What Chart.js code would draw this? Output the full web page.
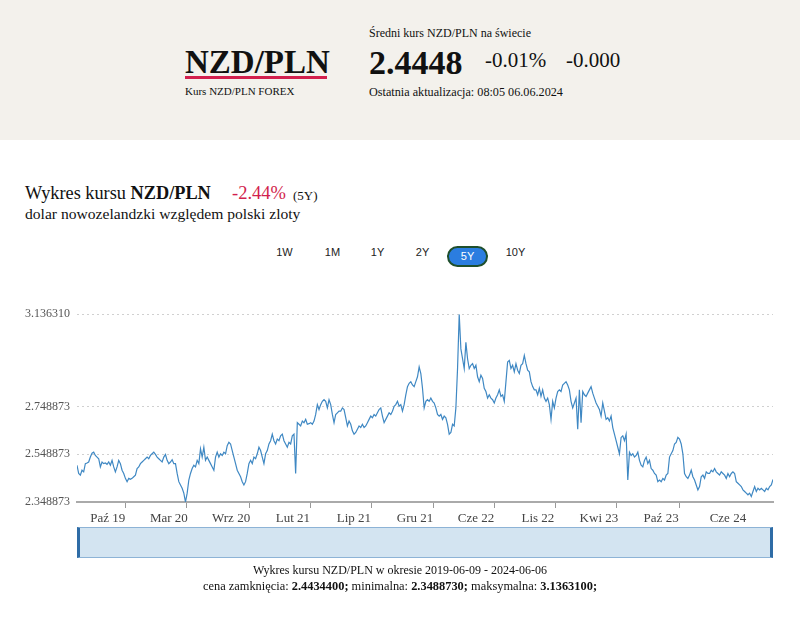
<!DOCTYPE html>
<html>
<head>
<meta charset="utf-8">
<script src="https://cdn.jsdelivr.net/npm/chart.js@4.4.1/dist/chart.umd.min.js"></script>
<style>
  body { margin: 0; width: 800px; height: 623px; position: relative; overflow: hidden; background: #fff; font-family: "Liberation Serif", serif; color: #111; }
  .t { position: absolute; white-space: nowrap; line-height: 1; }
  #hdr { position: absolute; left: 0; top: 0; width: 800px; height: 140px; background: #f3f1ec; }
  .btn { position: absolute; top: 246px; height: 19px; line-height: 19px; font: 11px "Liberation Sans", Arial, sans-serif; color: #222; text-align: center; }
  .btn.on { background: #2b7de0; color: #fff; border: 2px solid #1f4f2c; border-radius: 11px; height: 17px; line-height: 17px; }
  #nav { position: absolute; left: 77px; top: 527px; width: 690px; height: 29px; background: #d3e4f1; border-top: 1px solid #8db3d6; border-bottom: 1px solid #8db3d6; border-left: 3px solid #2e6ca6; border-right: 3px solid #2e6ca6; }
  #chartBox { position: absolute; left: 0; top: 300px; width: 800px; height: 230px; }
</style>
</head>
<body>
<div id="hdr"></div>
<div class="t" style="left:369px;top:27px;font-size:12px;">Średni kurs NZD/PLN na świecie</div>
<div class="t" style="left:185px;top:46px;font-size:33px;font-weight:bold;">NZD/PLN</div>
<div style="position:absolute;left:185px;top:76px;width:142px;height:3px;background:#d21f4d;"></div>
<div class="t" style="left:185px;top:86px;font-size:11px;">Kurs NZD/PLN FOREX</div>
<div class="t" style="left:369px;top:46px;font-size:34px;font-weight:bold;">2.4448</div>
<div class="t" style="left:485px;top:50px;font-size:21px;">-0.01%</div>
<div class="t" style="left:566px;top:50px;font-size:21px;">-0.000</div>
<div class="t" style="left:369px;top:86px;font-size:12.2px;">Ostatnia aktualizacja: 08:05 06.06.2024</div>

<div class="t" style="left:25px;top:184px;font-size:18.3px;">Wykres kursu <b>NZD/PLN</b></div>
<div class="t" style="left:232px;top:184px;font-size:18.5px;color:#d21f4d;">-2.44%</div>
<div class="t" style="left:293px;top:189px;font-size:13px;">(5Y)</div>
<div class="t" style="left:25px;top:206px;font-size:15.6px;">dolar nowozelandzki względem polski zloty</div>

<div class="btn" style="left:270px;width:29px;">1W</div>
<div class="btn" style="left:318px;width:29px;">1M</div>
<div class="btn" style="left:363px;width:29px;">1Y</div>
<div class="btn" style="left:408px;width:29px;">2Y</div>
<div class="btn on" style="left:447px;width:37px;">5Y</div>
<div class="btn" style="left:500px;width:31px;">10Y</div>

<div id="chartBox"><canvas id="rateChart" width="800" height="230"></canvas></div>
<div id="nav"></div>

<div class="t" style="left:0;width:800px;text-align:center;top:564px;font-size:12px;">Wykres kursu NZD/PLN w okresie 2019-06-09 - 2024-06-06</div>
<div class="t" style="left:0;width:800px;text-align:center;top:580px;font-size:12.4px;">cena zamknięcia: <b>2.4434400;</b> minimalna: <b>2.3488730;</b> maksymalna: <b>3.1363100;</b></div>

<script>
const startDate = "2019-06-09";
const endDate = "2024-06-06";

// closing rates, sampled evenly from startDate to endDate
const rates = [
  2.5029, 2.4685, 2.4616, 2.4822, 2.4754, 2.5097, 2.5125, 2.5166, 2.5372, 2.5537,
  2.5578, 2.5441, 2.5372, 2.5303, 2.4960, 2.5166, 2.5097, 2.5125, 2.5070, 2.5166,
  2.5029, 2.5235, 2.4960, 2.4754, 2.4960, 2.5235, 2.5097, 2.4822, 2.4685, 2.4479,
  2.4341, 2.4479, 2.4438, 2.4479, 2.4547, 2.4616, 2.4891, 2.4960, 2.5097, 2.5166,
  2.5235, 2.5303, 2.5372, 2.5303, 2.5441, 2.5510, 2.5578, 2.5482, 2.5372, 2.5303,
  2.5235, 2.5166, 2.5372, 2.5482, 2.5235, 2.5097, 2.5166, 2.5262, 2.5097, 2.5097,
  2.4685, 2.4341, 2.4204, 2.4066, 2.3860, 2.3489, 2.3860, 2.4410, 2.4685, 2.4891,
  2.5029, 2.4960, 2.5235, 2.5097,
  2.5716, 2.5372, 2.5785, 2.5235, 2.5372, 2.5235, 2.5097, 2.4960, 2.4822, 2.5372,
  2.5578, 2.5372, 2.5510, 2.5441, 2.5578, 2.5510, 2.5853, 2.5991, 2.5922, 2.5647,
  2.5372, 2.5097, 2.4822, 2.4685, 2.4547, 2.4341, 2.4204, 2.4341, 2.4685, 2.5097,
  2.5235, 2.5097, 2.5372, 2.5303, 2.5510, 2.5785, 2.5647, 2.5372, 2.5097, 2.5510,
  2.5647, 2.5922, 2.6059, 2.6334, 2.6059, 2.5922, 2.6128, 2.6059, 2.6266, 2.6334,
  2.6059, 2.5922, 2.5785, 2.5991, 2.5922, 2.6266, 2.6334, 2.4685, 2.6815, 2.6747,
  2.6678, 2.6884, 2.6815, 2.6953, 2.6747, 2.6774, 2.6815, 2.6747, 2.6884, 2.7159,
  2.7571, 2.7365, 2.7571, 2.7709, 2.7778, 2.7709, 2.7434, 2.7778, 2.7571, 2.7159,
  2.6815, 2.7159, 2.7228, 2.7297,
  2.7297, 2.7434, 2.7365, 2.7022, 2.6678, 2.6884, 2.6747, 2.6472, 2.6334, 2.6403,
  2.6541, 2.6678, 2.6609, 2.6747, 2.6609, 2.6678, 2.6815, 2.6953, 2.7090, 2.7022,
  2.7159, 2.7090, 2.7228, 2.7365, 2.7434, 2.7090, 2.6815, 2.6953, 2.7090, 2.7228,
  2.7159, 2.7297, 2.7503, 2.7571, 2.7709, 2.7503, 2.7571, 2.7297, 2.7571, 2.7984,
  2.8327, 2.8465, 2.8534, 2.8396, 2.8327, 2.8534, 2.8740, 2.9152, 2.8877, 2.8259,
  2.7434, 2.7709, 2.7778, 2.7709, 2.7846, 2.7709, 2.7640, 2.7434, 2.7159, 2.7090,
  2.7159, 2.6953, 2.7090, 2.7022, 2.6747, 2.6334, 2.6403, 2.6747, 2.6678, 2.7434,
  2.9084, 3.1363, 2.9908, 2.9496, 2.9084, 3.0183, 2.9496, 2.9084, 2.9221, 2.9290,
  2.9084, 2.9221, 2.8740, 2.8534,
  2.8809, 2.8671, 2.8259, 2.8121, 2.7846, 2.7984, 2.7846, 2.7778, 2.7640, 2.7846,
  2.7984, 2.8190, 2.7915, 2.7984, 2.7709, 2.8534, 2.9358, 2.9427, 2.9084, 2.9221,
  2.8946, 2.9290, 2.9015, 2.8877, 2.9221, 2.9290, 2.9633, 2.9290, 2.9015, 2.8946,
  2.8534, 2.8327, 2.8190, 2.8190, 2.7984, 2.8259, 2.7915, 2.8190, 2.7846, 2.7709,
  2.7846, 2.7571, 2.6953, 2.7709, 2.7434, 2.7846, 2.8121, 2.8190, 2.8121, 2.8396,
  2.8465, 2.8534, 2.8396, 2.8190, 2.7709, 2.7434, 2.7640, 2.7846, 2.6541, 2.8190,
  2.6815, 2.8121, 2.7984, 2.7915, 2.8053, 2.8190, 2.8327, 2.8053, 2.7846, 2.7640,
  2.7503, 2.7365, 2.7090, 2.7640, 2.7297, 2.6953, 2.7022, 2.6884, 2.7090, 2.6609,
  2.6334, 2.6059, 2.5785, 2.5510,
  2.6197, 2.6266, 2.6059, 2.6334, 2.4410, 2.5578, 2.5441, 2.5510, 2.5372, 2.5441,
  2.5578, 2.5235, 2.5029, 2.4960, 2.5235, 2.5372, 2.5097, 2.5235, 2.4891, 2.4822,
  2.4685, 2.4616, 2.4341, 2.4410, 2.4341, 2.4479, 2.4410, 2.4616, 2.4685, 2.5372,
  2.5510, 2.5647, 2.5922, 2.5991, 2.6197, 2.6128, 2.5922, 2.5510, 2.4685, 2.4547,
  2.4479, 2.4616, 2.4822, 2.4547, 2.4410, 2.4204, 2.3998, 2.4135, 2.4547, 2.4616,
  2.4479, 2.4754, 2.4685, 2.4685, 2.4822, 2.4754, 2.4891, 2.4754, 2.4685, 2.4616,
  2.4754, 2.4685, 2.4616, 2.4479, 2.4685, 2.4547, 2.4685, 2.4754, 2.4685, 2.4341,
  2.4273, 2.4204, 2.4135, 2.3998, 2.3929, 2.3860, 2.3791, 2.3860, 2.3723, 2.3929,
  2.4135, 2.3929, 2.4066, 2.3998, 2.4066, 2.3998, 2.3929, 2.4066, 2.3998, 2.4135,
  2.4204, 2.4434
];

const tickDates = ["2019-10-15", "2020-03-23", "2020-09-02", "2021-02-11", "2021-07-21", "2021-12-28",
  "2022-06-06", "2022-11-15", "2023-04-24", "2023-10-04", "2024-03-27"];
const tickLabels = ["Paź 19", "Mar 20", "Wrz 20", "Lut 21", "Lip 21", "Gru 21",
  "Cze 22", "Lis 22", "Kwi 23", "Paź 23", "Cze 24"];
const yTicks = [2.348873, 2.548873, 2.748873, 3.136310];

const DAY = 86400000;
const dayOf = d => (Date.parse(d) - Date.parse(startDate)) / DAY;
const span = dayOf(endDate);
const points = rates.map((v, i) => ({ x: i * span / (rates.length - 1), y: v }));

const ctx = document.getElementById("rateChart").getContext("2d");
new Chart(ctx, {
  type: "line",
  data: {
    datasets: [{
      data: points,
      borderColor: "#3f88c3",
      borderWidth: 1.2,
      pointRadius: 0,
      tension: 0,
      fill: false
    }]
  },
  options: {
    responsive: false,
    animation: false,
    devicePixelRatio: 1,
    layout: { padding: { top: 11, right: 27, left: 0, bottom: 0 } },
    plugins: { legend: { display: false }, tooltip: { enabled: false } },
    scales: {
      x: {
        type: "linear",
        min: 0,
        max: span,
        afterBuildTicks: s => { s.ticks = tickDates.map(d => ({ value: dayOf(d) })); },
        afterFit: s => { s.height = 28; },
        ticks: {
          autoSkip: false,
          maxRotation: 0,
          labelOffset: -18,
          padding: 3,
          color: "#444",
          font: { family: "Liberation Serif", size: 13 },
          callback: (v, i) => tickLabels[i]
        },
        grid: {
          drawOnChartArea: false,
          drawTicks: true,
          tickLength: 6,
          tickColor: c => c.index === tickLabels.length - 1 ? "rgba(0,0,0,0)" : "#999"
        },
        border: { color: "#aaa", width: 2 }
      },
      y: {
        min: 2.348873,
        max: 3.13631,
        afterBuildTicks: s => { s.ticks = yTicks.map(v => ({ value: v })); },
        afterFit: s => { s.width = 77; },
        ticks: {
          padding: 7,
          color: "#555",
          font: { family: "Liberation Serif", size: 12 },
          callback: v => Number(v).toFixed(6)
        },
        grid: {
          drawTicks: false,
          color: c => c.index === 0 ? "rgba(0,0,0,0)" : "#d0d0d0"
        },
        border: { display: false, dash: [2, 3] }
      }
    }
  }
});
</script>
</body>
</html>
